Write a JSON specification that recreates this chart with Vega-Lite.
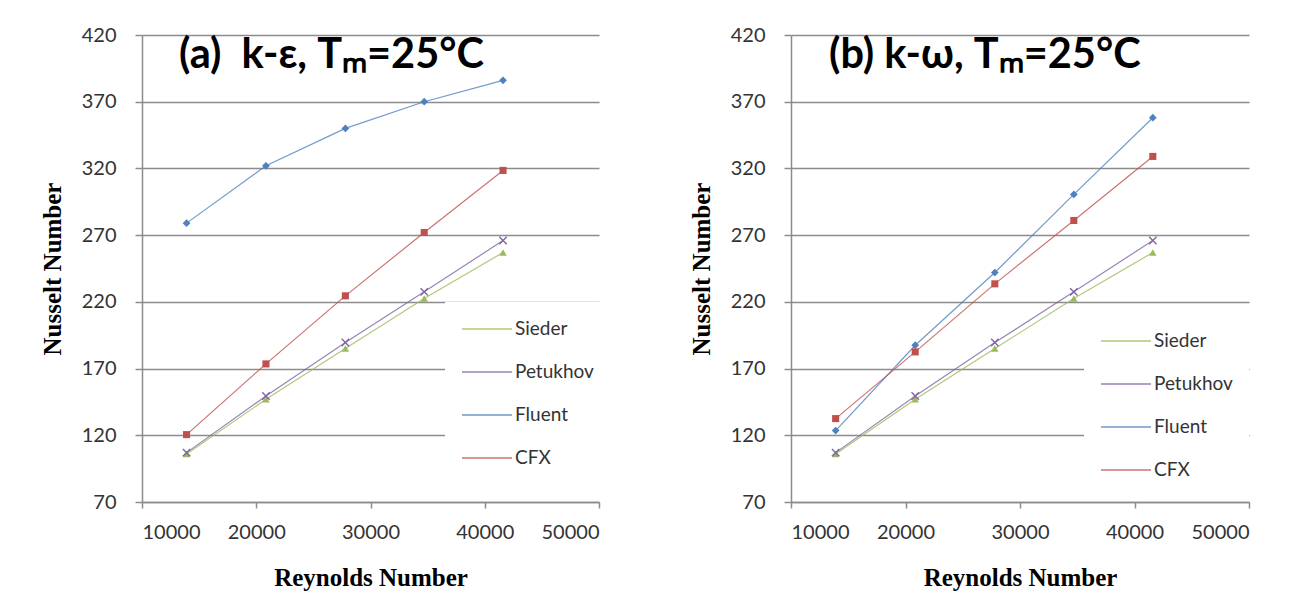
{
  "$schema": "https://vega.github.io/schema/vega-lite/v6.json",
  "background": "white",
  "padding": {"left": 40, "top": 25, "right": 5, "bottom": 5},
  "spacing": 79,
  "datasets": {
    "a": [
      {"Re": 13900, "Nu": 106, "series": "Sieder"},
      {"Re": 20850, "Nu": 147, "series": "Sieder"},
      {"Re": 27800, "Nu": 185, "series": "Sieder"},
      {"Re": 34700, "Nu": 222.5, "series": "Sieder"},
      {"Re": 41600, "Nu": 257, "series": "Sieder"},
      {"Re": 13900, "Nu": 107, "series": "Petukhov"},
      {"Re": 20850, "Nu": 149.5, "series": "Petukhov"},
      {"Re": 27800, "Nu": 189.5, "series": "Petukhov"},
      {"Re": 34700, "Nu": 227.5, "series": "Petukhov"},
      {"Re": 41600, "Nu": 266, "series": "Petukhov"},
      {"Re": 13900, "Nu": 279, "series": "Fluent"},
      {"Re": 20850, "Nu": 322, "series": "Fluent"},
      {"Re": 27800, "Nu": 350, "series": "Fluent"},
      {"Re": 34700, "Nu": 370, "series": "Fluent"},
      {"Re": 41600, "Nu": 386, "series": "Fluent"},
      {"Re": 13900, "Nu": 120.5, "series": "CFX"},
      {"Re": 20850, "Nu": 173.5, "series": "CFX"},
      {"Re": 27800, "Nu": 224.5, "series": "CFX"},
      {"Re": 34700, "Nu": 272, "series": "CFX"},
      {"Re": 41600, "Nu": 318.5, "series": "CFX"}
    ],
    "b": [
      {"Re": 13900, "Nu": 106, "series": "Sieder"},
      {"Re": 20850, "Nu": 147, "series": "Sieder"},
      {"Re": 27800, "Nu": 185, "series": "Sieder"},
      {"Re": 34700, "Nu": 222.5, "series": "Sieder"},
      {"Re": 41600, "Nu": 257, "series": "Sieder"},
      {"Re": 13900, "Nu": 107, "series": "Petukhov"},
      {"Re": 20850, "Nu": 149.5, "series": "Petukhov"},
      {"Re": 27800, "Nu": 189.5, "series": "Petukhov"},
      {"Re": 34700, "Nu": 227.5, "series": "Petukhov"},
      {"Re": 41600, "Nu": 266, "series": "Petukhov"},
      {"Re": 13900, "Nu": 123.5, "series": "Fluent"},
      {"Re": 20850, "Nu": 187.5, "series": "Fluent"},
      {"Re": 27800, "Nu": 242, "series": "Fluent"},
      {"Re": 34700, "Nu": 300.5, "series": "Fluent"},
      {"Re": 41600, "Nu": 358, "series": "Fluent"},
      {"Re": 13900, "Nu": 132.5, "series": "CFX"},
      {"Re": 20850, "Nu": 182.5, "series": "CFX"},
      {"Re": 27800, "Nu": 233.5, "series": "CFX"},
      {"Re": 34700, "Nu": 281, "series": "CFX"},
      {"Re": 41600, "Nu": 329, "series": "CFX"}
    ]
  },
  "resolve": {
    "scale": {"color": "independent"},
    "legend": {"color": "independent"}
  },
  "hconcat": [
    {
      "width": 457,
      "height": 467,
      "data": {"name": "a"},
      "layer": [
        {"mark": {"type": "line", "strokeWidth": 1.2, "opacity": 0.8},
         "encoding": {
           "x": {"field": "Re", "type": "quantitative", "scale": {"domain": [10000, 50000], "nice": false, "zero": false},
                 "axis": {"title": "Reynolds Number", "values": [10000, 20000, 30000, 40000, 50000], "format": "d", "grid": false, "tickSize": 6, "labelPadding": 14, "titlePadding": 23}},
           "y": {"field": "Nu", "type": "quantitative", "scale": {"domain": [70, 420], "nice": false, "zero": false},
                 "axis": {"title": "Nusselt Number", "values": [70, 120, 170, 220, 270, 320, 370, 420], "grid": true, "tickSize": 7, "labelPadding": 19, "titlePadding": 16}},
           "color": {"field": "series", "type": "nominal",
                     "scale": {"domain": ["Sieder", "Petukhov", "Fluent", "CFX"], "range": ["#9BBB59", "#8064A2", "#4F81BD", "#C0504D"]},
                     "legend": {"title": null, "orient": "none", "legendX": 303, "legendY": 267, "padding": 16, "fillColor": "white",
                                "symbolType": "M-1,0H4", "symbolSize": 400, "symbolStrokeWidth": 1.5, "labelOffset": 32, "rowPadding": 22,
                                "labelFont": "Lato", "labelFontSize": 19, "labelColor": "#333333"}}}},
        {"transform": [{"filter": "datum.series === 'Sieder'"}],
         "mark": {"type": "point", "shape": "triangle-up", "filled": true, "color": "#9BBB59", "opacity": 1, "size": 55},
         "encoding": {
           "x": {"field": "Re", "type": "quantitative", "scale": {"domain": [10000, 50000], "nice": false, "zero": false},
                 "axis": {"title": "Reynolds Number", "values": [10000, 20000, 30000, 40000, 50000], "format": "d", "grid": false, "tickSize": 6, "labelPadding": 14, "titlePadding": 23}},
           "y": {"field": "Nu", "type": "quantitative", "scale": {"domain": [70, 420], "nice": false, "zero": false},
                 "axis": {"title": "Nusselt Number", "values": [70, 120, 170, 220, 270, 320, 370, 420], "grid": true, "tickSize": 7, "labelPadding": 19, "titlePadding": 16}}}},
        {"transform": [{"filter": "datum.series === 'Petukhov'"}],
         "mark": {"type": "point", "shape": "M-1,-1L1,1M-1,1L1,-1", "filled": false, "color": "#8064A2", "opacity": 1, "size": 55, "strokeWidth": 1.4},
         "encoding": {
           "x": {"field": "Re", "type": "quantitative", "scale": {"domain": [10000, 50000], "nice": false, "zero": false},
                 "axis": {"title": "Reynolds Number", "values": [10000, 20000, 30000, 40000, 50000], "format": "d", "grid": false, "tickSize": 6, "labelPadding": 14, "titlePadding": 23}},
           "y": {"field": "Nu", "type": "quantitative", "scale": {"domain": [70, 420], "nice": false, "zero": false},
                 "axis": {"title": "Nusselt Number", "values": [70, 120, 170, 220, 270, 320, 370, 420], "grid": true, "tickSize": 7, "labelPadding": 19, "titlePadding": 16}}}},
        {"transform": [{"filter": "datum.series === 'Fluent'"}],
         "mark": {"type": "point", "shape": "diamond", "filled": true, "color": "#4F81BD", "opacity": 1, "size": 60},
         "encoding": {
           "x": {"field": "Re", "type": "quantitative", "scale": {"domain": [10000, 50000], "nice": false, "zero": false},
                 "axis": {"title": "Reynolds Number", "values": [10000, 20000, 30000, 40000, 50000], "format": "d", "grid": false, "tickSize": 6, "labelPadding": 14, "titlePadding": 23}},
           "y": {"field": "Nu", "type": "quantitative", "scale": {"domain": [70, 420], "nice": false, "zero": false},
                 "axis": {"title": "Nusselt Number", "values": [70, 120, 170, 220, 270, 320, 370, 420], "grid": true, "tickSize": 7, "labelPadding": 19, "titlePadding": 16}}}},
        {"transform": [{"filter": "datum.series === 'CFX'"}],
         "mark": {"type": "point", "shape": "square", "filled": true, "color": "#C0504D", "opacity": 1, "size": 50},
         "encoding": {
           "x": {"field": "Re", "type": "quantitative", "scale": {"domain": [10000, 50000], "nice": false, "zero": false},
                 "axis": {"title": "Reynolds Number", "values": [10000, 20000, 30000, 40000, 50000], "format": "d", "grid": false, "tickSize": 6, "labelPadding": 14, "titlePadding": 23}},
           "y": {"field": "Nu", "type": "quantitative", "scale": {"domain": [70, 420], "nice": false, "zero": false},
                 "axis": {"title": "Nusselt Number", "values": [70, 120, 170, 220, 270, 320, 370, 420], "grid": true, "tickSize": 7, "labelPadding": 19, "titlePadding": 16}}}},
        {"data": {"values": [{"t": 1}]},
         "mark": {"type": "text", "align": "left", "baseline": "alphabetic", "font": "Lato", "fontSize": 41.5, "fontWeight": "bold", "fill": "#000000"},
         "encoding": {"x": {"datum": 13240, "type": "quantitative"}, "y": {"datum": 395.3, "type": "quantitative"}, "text": {"value": "(a)\u00a0\u00a0k-ε, Tₘ=25°C"}}}
      ]
    },
    {
      "width": 458,
      "height": 467,
      "data": {"name": "b"},
      "layer": [
        {"mark": {"type": "line", "strokeWidth": 1.2, "opacity": 0.8},
         "encoding": {
           "x": {"field": "Re", "type": "quantitative", "scale": {"domain": [10000, 50000], "nice": false, "zero": false},
                 "axis": {"title": "Reynolds Number", "values": [10000, 20000, 30000, 40000, 50000], "format": "d", "grid": false, "tickSize": 6, "labelPadding": 14, "titlePadding": 23}},
           "y": {"field": "Nu", "type": "quantitative", "scale": {"domain": [70, 420], "nice": false, "zero": false},
                 "axis": {"title": "Nusselt Number", "values": [70, 120, 170, 220, 270, 320, 370, 420], "grid": true, "tickSize": 7, "labelPadding": 19, "titlePadding": 16}},
           "color": {"field": "series", "type": "nominal",
                     "scale": {"domain": ["Sieder", "Petukhov", "Fluent", "CFX"], "range": ["#9BBB59", "#8064A2", "#4F81BD", "#C0504D"]},
                     "legend": {"title": null, "orient": "none", "legendX": 293, "legendY": 279, "padding": 16, "fillColor": "white",
                                "symbolType": "M-1,0H4", "symbolSize": 400, "symbolStrokeWidth": 1.5, "labelOffset": 32, "rowPadding": 22,
                                "labelFont": "Lato", "labelFontSize": 19, "labelColor": "#333333"}}}},
        {"transform": [{"filter": "datum.series === 'Sieder'"}],
         "mark": {"type": "point", "shape": "triangle-up", "filled": true, "color": "#9BBB59", "opacity": 1, "size": 55},
         "encoding": {
           "x": {"field": "Re", "type": "quantitative", "scale": {"domain": [10000, 50000], "nice": false, "zero": false},
                 "axis": {"title": "Reynolds Number", "values": [10000, 20000, 30000, 40000, 50000], "format": "d", "grid": false, "tickSize": 6, "labelPadding": 14, "titlePadding": 23}},
           "y": {"field": "Nu", "type": "quantitative", "scale": {"domain": [70, 420], "nice": false, "zero": false},
                 "axis": {"title": "Nusselt Number", "values": [70, 120, 170, 220, 270, 320, 370, 420], "grid": true, "tickSize": 7, "labelPadding": 19, "titlePadding": 16}}}},
        {"transform": [{"filter": "datum.series === 'Petukhov'"}],
         "mark": {"type": "point", "shape": "M-1,-1L1,1M-1,1L1,-1", "filled": false, "color": "#8064A2", "opacity": 1, "size": 55, "strokeWidth": 1.4},
         "encoding": {
           "x": {"field": "Re", "type": "quantitative", "scale": {"domain": [10000, 50000], "nice": false, "zero": false},
                 "axis": {"title": "Reynolds Number", "values": [10000, 20000, 30000, 40000, 50000], "format": "d", "grid": false, "tickSize": 6, "labelPadding": 14, "titlePadding": 23}},
           "y": {"field": "Nu", "type": "quantitative", "scale": {"domain": [70, 420], "nice": false, "zero": false},
                 "axis": {"title": "Nusselt Number", "values": [70, 120, 170, 220, 270, 320, 370, 420], "grid": true, "tickSize": 7, "labelPadding": 19, "titlePadding": 16}}}},
        {"transform": [{"filter": "datum.series === 'Fluent'"}],
         "mark": {"type": "point", "shape": "diamond", "filled": true, "color": "#4F81BD", "opacity": 1, "size": 60},
         "encoding": {
           "x": {"field": "Re", "type": "quantitative", "scale": {"domain": [10000, 50000], "nice": false, "zero": false},
                 "axis": {"title": "Reynolds Number", "values": [10000, 20000, 30000, 40000, 50000], "format": "d", "grid": false, "tickSize": 6, "labelPadding": 14, "titlePadding": 23}},
           "y": {"field": "Nu", "type": "quantitative", "scale": {"domain": [70, 420], "nice": false, "zero": false},
                 "axis": {"title": "Nusselt Number", "values": [70, 120, 170, 220, 270, 320, 370, 420], "grid": true, "tickSize": 7, "labelPadding": 19, "titlePadding": 16}}}},
        {"transform": [{"filter": "datum.series === 'CFX'"}],
         "mark": {"type": "point", "shape": "square", "filled": true, "color": "#C0504D", "opacity": 1, "size": 50},
         "encoding": {
           "x": {"field": "Re", "type": "quantitative", "scale": {"domain": [10000, 50000], "nice": false, "zero": false},
                 "axis": {"title": "Reynolds Number", "values": [10000, 20000, 30000, 40000, 50000], "format": "d", "grid": false, "tickSize": 6, "labelPadding": 14, "titlePadding": 23}},
           "y": {"field": "Nu", "type": "quantitative", "scale": {"domain": [70, 420], "nice": false, "zero": false},
                 "axis": {"title": "Nusselt Number", "values": [70, 120, 170, 220, 270, 320, 370, 420], "grid": true, "tickSize": 7, "labelPadding": 19, "titlePadding": 16}}}},
        {"data": {"values": [{"t": 1}]},
         "mark": {"type": "text", "align": "left", "baseline": "alphabetic", "font": "Lato", "fontSize": 41.5, "fontWeight": "bold", "fill": "#000000"},
         "encoding": {"x": {"datum": 13320, "type": "quantitative"}, "y": {"datum": 395.3, "type": "quantitative"}, "text": {"value": "(b) k-ω, Tₘ=25°C"}}}
      ]
    }
  ],
  "config": {
    "view": {"stroke": null},
    "axis": {
      "labelFont": "Lato", "labelFontSize": 20, "labelColor": "#333333",
      "titleFont": "Liberation Serif", "titleFontSize": 25, "titleFontWeight": "bold", "titleColor": "#000000",
      "domainColor": "#8c8c8c", "domainWidth": 1.5, "tickColor": "#8c8c8c", "tickWidth": 1.5,
      "gridColor": "#8c8c8c", "gridWidth": 1.3, "gridOpacity": 1
    }
  }
}
